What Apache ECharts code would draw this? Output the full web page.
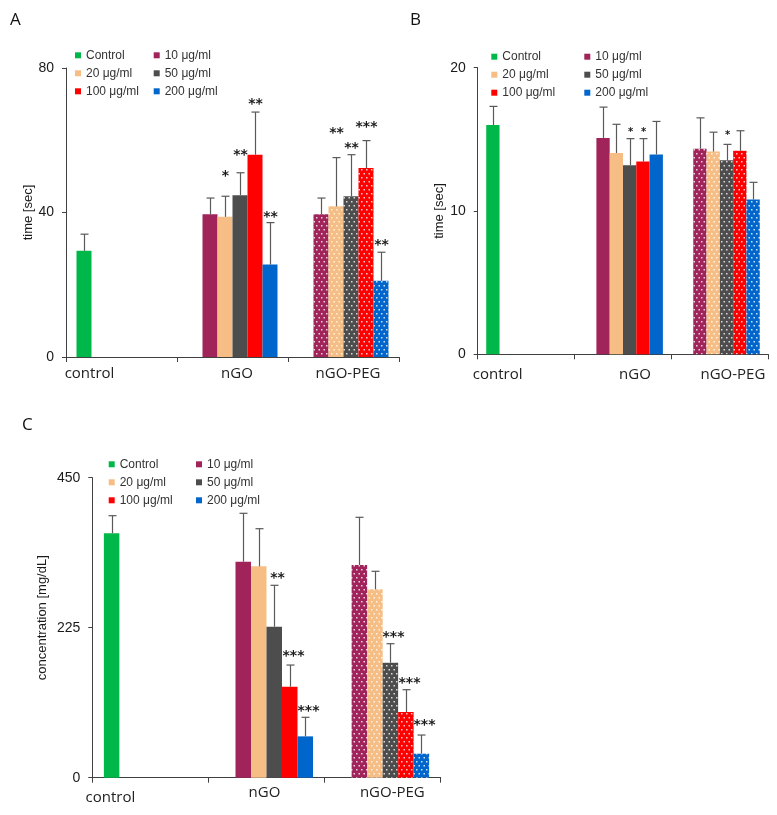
<!DOCTYPE html>
<html>
<head>
<meta charset="utf-8">
<script src="https://cdn.jsdelivr.net/npm/echarts@6/dist/echarts.min.js"></script>
<style>
  html, body { margin: 0; padding: 0; background: #fff; }
  #chart { width: 777px; height: 815px; }
</style>
</head>
<body>
<div id="chart"></div>
<script>
// ---------------- data ----------------
const CATEGORIES = ['control', 'nGO', 'nGO-PEG'];
const SERIES_NAMES = ['Control', '10 μg/ml', '20 μg/ml', '50 μg/ml', '100 μg/ml', '200 μg/ml'];

// Panel A: time [sec]
const A_TICKS = [0, 40, 80];
const A_CONTROL = [29.4];
const A_CONTROL_SD = [4.6];
const A_NGO = [39.5, 38.8, 44.8, 56.0, 25.6];
const A_NGO_SD = [4.5, 5.7, 6.2, 11.8, 11.6];
const A_PEG = [39.5, 41.7, 44.5, 52.3, 21.1];
const A_PEG_SD = [4.5, 13.5, 11.5, 7.6, 7.9];
const A_NGO_SIG = ['', '*', '**', '**', '**'];
const A_PEG_SIG = ['', '**', '**', '***', '**'];
const A_NGO_SIG_AT = [null, 50.9, 56.7, 70.9, 39.5];
const A_PEG_SIG_AT = [null, 62.6, 58.6, 64.4, 31.6];

// Panel B: time [sec]
const B_TICKS = [0, 10, 20];
const B_CONTROL = [16.0];
const B_CONTROL_SD = [1.3];
const B_NGO = [15.1, 14.05, 13.2, 13.45, 13.95];
const B_NGO_SD = [2.15, 2.0, 1.85, 1.6, 2.3];
const B_PEG = [14.35, 14.15, 13.55, 14.2, 10.8];
const B_PEG_SD = [2.15, 1.35, 1.1, 1.4, 1.2];
const B_NGO_SIG = ['', '', '*', '*', ''];
const B_PEG_SIG = ['', '', '*', '', ''];
const B_NGO_SIG_AT = [null, null, 15.65, 15.65, null];
const B_PEG_SIG_AT = [null, null, 15.42, null, null];

// Panel C: concentration [mg/dL]
const C_TICKS = [0, 225, 450];
const C_CONTROL = [366.6];
const C_CONTROL_SD = [26.4];
const C_NGO = [324, 317, 226.5, 136.5, 62];
const C_NGO_SD = [72.6, 56.5, 62.1, 32.5, 28.6];
const C_PEG = [319, 282.6, 172.5, 98.6, 36];
const C_PEG_SD = [71.6, 27, 28.5, 33.4, 28];
const C_NGO_SIG = ['', '', '**', '***', '***'];
const C_PEG_SIG = ['', '', '***', '***', '***'];
const C_NGO_SIG_AT = [null, null, 303, 186.6, 103.5];
const C_PEG_SIG_AT = [null, null, 215, 146.5, 82.5];

// ---------------- styles / layout ----------------
const COLORS = ['#00B84A', '#A0235A', '#F6BE84', '#4D4D4D', '#FF0000', '#0066CC'];
const AXIS_COLOR = '#404040';
const ERR_COLOR = '#595959';

function makePattern(color) {
  const c = document.createElement('canvas');
  c.width = 5; c.height = 8;
  const g = c.getContext('2d');
  g.fillStyle = color; g.fillRect(0, 0, 5, 8);
  g.fillStyle = 'rgba(255,255,255,0.8)';
  g.fillRect(1, 1, 1.5, 1.5);
  g.fillRect(3.5, 5, 1.5, 1.5);
  return { image: c, repeat: 'repeat' };
}
const PATTERNS = COLORS.map(makePattern);

const PANELS = [
  {
    letter: 'A', letterPos: [10, 20],
    grid: { left: 66, top: 68, width: 333, height: 289 },
    bw: 15, ticks: A_TICKS, yName: 'time [sec]', nameGap: 30, namePad: [0, 0, 0, 0],
    control: A_CONTROL, controlSd: A_CONTROL_SD, ngo: A_NGO, ngoSd: A_NGO_SD, peg: A_PEG, pegSd: A_PEG_SD,
    ngoSig: A_NGO_SIG, pegSig: A_PEG_SIG, ngoSigAt: A_NGO_SIG_AT, pegSigAt: A_PEG_SIG_AT,
    starFont: 'bold 14px "DejaVu Sans"', starDx: 0, starDy: 3,
    labelMargin: 9, labelShift: [[-32, 0], [4.5, 0], [4.5, 0]],
    legend: [75, 153.7, 48.3]
  },
  {
    letter: 'B', letterPos: [410, 20],
    grid: { left: 477.7, top: 67.7, width: 290.6, height: 286.6 },
    bw: 13.3, ticks: B_TICKS, yName: 'time [sec]', nameGap: 30.5, namePad: [0, 0, 0, 0],
    control: B_CONTROL, controlSd: B_CONTROL_SD, ngo: B_NGO, ngoSd: B_NGO_SD, peg: B_PEG, pegSd: B_PEG_SD,
    ngoSig: B_NGO_SIG, pegSig: B_PEG_SIG, ngoSigAt: B_NGO_SIG_AT, pegSigAt: B_PEG_SIG_AT,
    starFont: 'bold 10px "DejaVu Sans"', starDx: 0, starDy: 2,
    labelMargin: 12.5, labelShift: [[-28.5, 0], [12, 0.7], [13, -1.5]],
    legend: [491.3, 584.3, 49.7]
  },
  {
    letter: 'C', letterPos: [22, 425],
    grid: { left: 92.3, top: 477.7, width: 348.4, height: 300 },
    bw: 15.5, ticks: C_TICKS, yName: 'concentration [mg/dL]', nameGap: 43, namePad: [0, 0, 0, 20],
    control: C_CONTROL, controlSd: C_CONTROL_SD, ngo: C_NGO, ngoSd: C_NGO_SD, peg: C_PEG, pegSd: C_PEG_SD,
    ngoSig: C_NGO_SIG, pegSig: C_PEG_SIG, ngoSigAt: C_NGO_SIG_AT, pegSigAt: C_PEG_SIG_AT,
    starFont: 'bold 14px "DejaVu Sans"', starDx: 3, starDy: 3,
    labelMargin: 8, labelShift: [[-40, 5], [-2, 0], [9.7, 0]],
    legend: [108.7, 196, 457.3]
  }
];

// ---------------- build option ----------------
const grids = [], xAxes = [], yAxes = [], series = [], legends = [], graphics = [];

PANELS.forEach((p, pi) => {
  grids.push(Object.assign({ containLabel: false }, p.grid));

  const rich = {};
  p.labelShift.forEach((s, i) => {
    const dx = s[0], dy = s[1];
    rich['l' + i] = {
      fontFamily: 'Open Sans', fontSize: 15, color: '#222',
      padding: [Math.max(dy, 0), dx < 0 ? -2 * dx : 0, 0, dx > 0 ? 2 * dx : 0]
    };
  });

  xAxes.push({
    gridIndex: pi, type: 'category', data: CATEGORIES,
    axisLine: { show: true, lineStyle: { color: AXIS_COLOR, width: 1 } },
    axisTick: { show: true, length: 5, lineStyle: { color: AXIS_COLOR } },
    axisLabel: {
      interval: 0, margin: p.labelMargin, fontFamily: 'Open Sans', fontSize: 15, color: '#222',
      formatter: (v, i) => '{l' + i + '|' + v + '}', rich: rich
    },
    splitLine: { show: false }
  });

  yAxes.push({
    gridIndex: pi, type: 'value',
    min: p.ticks[0], max: p.ticks[p.ticks.length - 1], interval: p.ticks[1] - p.ticks[0],
    axisLine: { show: true, lineStyle: { color: AXIS_COLOR, width: 1 } },
    axisTick: { show: true, length: 4, lineStyle: { color: AXIS_COLOR } },
    axisLabel: { margin: 12, fontFamily: 'Liberation Sans', fontSize: 14, color: '#1a1a1a' },
    splitLine: { show: false },
    name: p.yName, nameLocation: 'middle', nameGap: p.nameGap,
    nameTextStyle: { fontFamily: 'Liberation Sans', fontSize: 13, color: '#1a1a1a', padding: p.namePad }
  });

  // bars
  SERIES_NAMES.forEach((name, si) => {
    let data;
    if (si === 0) {
      data = [p.control[0], '-', '-'];
    } else {
      data = ['-', p.ngo[si - 1], { value: p.peg[si - 1], itemStyle: { color: PATTERNS[si] } }];
    }
    series.push({
      type: 'bar', name: name, xAxisIndex: pi, yAxisIndex: pi,
      barWidth: p.bw, barGap: '0%',
      itemStyle: { color: COLORS[si] },
      data: data, z: 2, animation: false
    });
  });

  // error bars + significance marks
  const rows = [{ cat: 0, slot: 0, v: p.control[0], sd: p.controlSd[0], sig: '', at: null }];
  for (let k = 0; k < 5; k++) {
    rows.push({ cat: 1, slot: k + 1, v: p.ngo[k], sd: p.ngoSd[k], sig: p.ngoSig[k], at: p.ngoSigAt[k] });
  }
  for (let k = 0; k < 5; k++) {
    rows.push({ cat: 2, slot: k + 1, v: p.peg[k], sd: p.pegSd[k], sig: p.pegSig[k], at: p.pegSigAt[k] });
  }
  series.push({
    type: 'custom', xAxisIndex: pi, yAxisIndex: pi, z: 5, clip: false, animation: false,
    encode: { x: 0, y: [2, 3] },
    silent: true,
    data: rows.map(r => [r.cat, r.slot, r.v, r.v + r.sd]),
    renderItem: function (params, api) {
      const r = rows[params.dataIndex];
      const base = api.coord([r.cat, r.v]);
      const top = api.coord([r.cat, r.v + r.sd]);
      const x = Math.round(base[0] + (r.slot - 2.5) * p.bw) + 0.5;
      const cap = 4;
      const children = [
        { type: 'line', shape: { x1: x, y1: base[1], x2: x, y2: top[1] }, style: { stroke: ERR_COLOR, lineWidth: 1.2 } },
        { type: 'line', shape: { x1: x - cap, y1: top[1], x2: x + cap, y2: top[1] }, style: { stroke: ERR_COLOR, lineWidth: 1.2 } }
      ];
      if (r.sig && r.at != null) {
        const sp = api.coord([r.cat, r.at]);
        children.push({
          type: 'text',
          style: {
            text: r.sig, x: x + p.starDx, y: sp[1] + p.starDy,
            align: 'center', verticalAlign: 'middle', font: p.starFont, fill: '#1a1a1a'
          }
        });
      }
      return { type: 'group', children: children };
    }
  });

  // legends: two columns
  const legBase = {
    orient: 'vertical', itemWidth: 6, itemHeight: 6, itemGap: 4, icon: 'rect',
    textStyle: { fontFamily: 'Liberation Sans', fontSize: 12, color: '#333', lineHeight: 14 },
    selectedMode: false, padding: 0
  };
  legends.push(Object.assign({}, legBase, { left: p.legend[0], top: p.legend[2], data: [SERIES_NAMES[0], SERIES_NAMES[2], SERIES_NAMES[4]] }));
  legends.push(Object.assign({}, legBase, { left: p.legend[1], top: p.legend[2], data: [SERIES_NAMES[1], SERIES_NAMES[3], SERIES_NAMES[5]] }));

  graphics.push({
    type: 'text', x: p.letterPos[0], y: p.letterPos[1],
    style: { text: p.letter, fontFamily: 'Open Sans', fontSize: 17, fill: '#111', verticalAlign: 'middle' }
  });
});

const chart = echarts.init(document.getElementById('chart'), null, { renderer: 'canvas' });
chart.setOption({
  backgroundColor: '#ffffff',
  animation: false,
  grid: grids,
  xAxis: xAxes,
  yAxis: yAxes,
  legend: legends,
  graphic: graphics,
  series: series
});
</script>
</body>
</html>
